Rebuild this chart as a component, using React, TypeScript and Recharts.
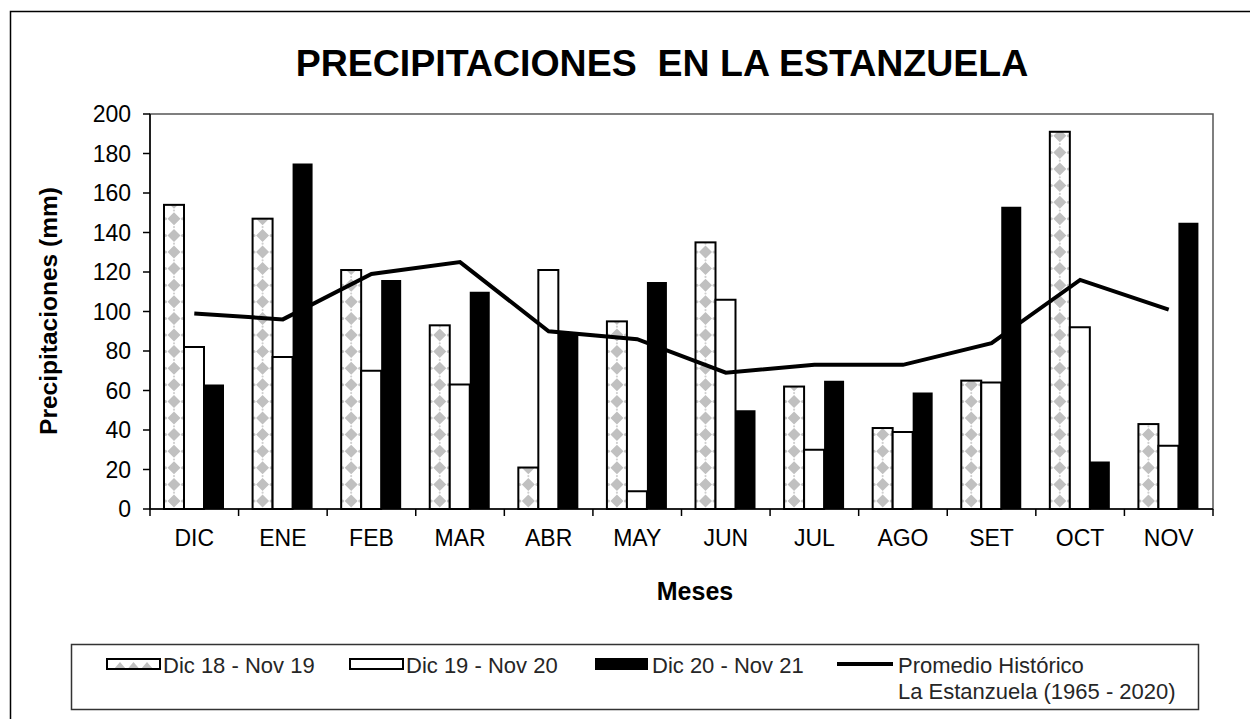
import { ComposedChart, Bar, Line, XAxis, YAxis, ReferenceArea } from 'recharts';

const months = ['DIC', 'ENE', 'FEB', 'MAR', 'ABR', 'MAY', 'JUN', 'JUL', 'AGO', 'SET', 'OCT', 'NOV'];
const season1819 = [154, 147, 121, 93, 21, 95, 135, 62, 41, 65, 191, 43];
const season1920 = [82, 77, 70, 63, 121, 9, 106, 30, 39, 64, 92, 32];
const season2021 = [63, 175, 116, 110, 89, 115, 50, 65, 59, 153, 24, 145];
const historical = [99, 96, 119, 125, 90, 86, 69, 73, 73, 84, 116, 101];
const yTicks = [0, 20, 40, 60, 80, 100, 120, 140, 160, 180, 200];

const data = months.map((month, i) => ({
  month,
  s1819: season1819[i],
  s1920: season1920[i],
  s2021: season2021[i],
  hist: historical[i],
}));

const W = 1250;
const H = 719;
const PLOT_LEFT = 150;
const PLOT_RIGHT = 1213;
const BAND = (PLOT_RIGHT - PLOT_LEFT) / months.length;
const FONT = '"Liberation Sans", Arial, sans-serif';

function diamonds(x: number, y: number, width: number, height: number) {
  const out = [];
  const cx = x + width / 2;
  const step = 16.6;
  let k = 0;
  for (let cy = y + height - 8; cy > y - 8; cy -= step) {
    out.push(
      <g key={k++}>
        <polygon points={`${cx},${cy - 6.5} ${cx + 6.5},${cy} ${cx},${cy + 6.5} ${cx - 6.5},${cy}`} fill="#c0c0c0" />
        <circle cx={x + 1.5} cy={cy} r={1.5} fill="#c8c8c8" />
        <circle cx={x + width - 1.5} cy={cy} r={1.5} fill="#c8c8c8" />
        <circle cx={cx} cy={cy - step / 2} r={1.1} fill="#d0d0d0" />
      </g>
    );
  }
  return out;
}

function DiamondBar(props: any) {
  const { x, y, width, height } = props;
  if (!height || height <= 0) return null;
  const id = `clip-d-${Math.round(x)}`;
  return (
    <g>
      <defs>
        <clipPath id={id}>
          <rect x={x} y={y} width={width} height={height} />
        </clipPath>
      </defs>
      <rect x={x} y={y} width={width} height={height} fill="#fff" />
      <g clipPath={`url(#${id})`}>{diamonds(x, y, width, height)}</g>
      <rect x={x} y={y} width={width} height={height} fill="none" stroke="#000" strokeWidth={2} />
    </g>
  );
}

function MonthTick(props: any) {
  const { x, y, payload, index } = props;
  const last = index === months.length - 1;
  return (
    <g>
      <line x1={x - BAND / 2} x2={x - BAND / 2} y1={y} y2={y + 7} stroke="#000" strokeWidth={1.5} />
      {last && <line x1={x + BAND / 2} x2={x + BAND / 2} y1={y} y2={y + 7} stroke="#000" strokeWidth={1.5} />}
      <text x={x} y={y + 37} textAnchor="middle" fontSize={23} fontFamily={FONT} fill="#000">
        {payload.value}
      </text>
    </g>
  );
}

export default function App() {
  return (
    <div style={{ position: 'absolute', left: 0, top: 0, width: W, height: H, overflow: 'hidden', background: '#fff' }}>
      <ComposedChart
        width={W}
        height={H}
        data={data}
        margin={{ top: 114, right: W - PLOT_RIGHT, bottom: 180, left: 0 }}
        barGap={0}
      >
        <ReferenceArea y1={0} y2={200} fill="none" stroke="#555" strokeWidth={1.5} ifOverflow="visible" />
        <XAxis
          dataKey="month"
          height={30}
          interval={0}
          tickLine={false}
          tickSize={0}
          tickMargin={0}
          axisLine={{ stroke: '#000', strokeWidth: 1.5 }}
          tick={<MonthTick />}
        />
        <YAxis
          width={PLOT_LEFT}
          domain={[0, 200]}
          ticks={yTicks}
          interval={0}
          tickSize={7}
          tickMargin={12}
          axisLine={{ stroke: '#000', strokeWidth: 1.5 }}
          tickLine={{ stroke: '#000', strokeWidth: 1.5 }}
          tick={{ fontSize: 23, fontFamily: FONT, fill: '#000' }}
        />
        <Bar dataKey="s1819" barSize={20} shape={<DiamondBar />} isAnimationActive={false} />
        <Bar dataKey="s1920" barSize={20} fill="#fff" stroke="#000" strokeWidth={2} isAnimationActive={false} />
        <Bar dataKey="s2021" barSize={20} fill="#000" isAnimationActive={false} />
        <Line dataKey="hist" type="linear" stroke="#000" strokeWidth={4} dot={false} activeDot={false} isAnimationActive={false} />
      </ComposedChart>

      <svg width={W} height={H} style={{ position: 'absolute', left: 0, top: 0, pointerEvents: 'none' }}>
        <rect x={10.5} y={11.5} width={1400} height={900} fill="none" stroke="#000" strokeWidth={1.5} />
        <text x={662} y={76} textAnchor="middle" fontSize={37.5} fontWeight="bold" fontFamily={FONT} fill="#000">
          {'PRECIPITACIONES\u00a0 EN LA ESTANZUELA'}
        </text>
        <text
          transform="translate(57, 311) rotate(-90)"
          textAnchor="middle"
          fontSize={24.5}
          fontWeight="bold"
          fontFamily={FONT}
          fill="#000"
        >
          Precipitaciones (mm)
        </text>
        <text x={695} y={600} textAnchor="middle" fontSize={25} fontWeight="bold" fontFamily={FONT} fill="#000">
          Meses
        </text>

        <rect x={71.5} y={644.5} width={1127} height={65} fill="#fff" stroke="#333" strokeWidth={1.5} />
        <defs>
          <clipPath id="leg-clip">
            <rect x={107} y={659} width={53} height={10} />
          </clipPath>
        </defs>
        <rect x={107} y={659} width={53} height={10} fill="#fff" />
        <g clipPath="url(#leg-clip)">
          {[120, 133.5, 147].map((cx) => (
            <polygon key={cx} points={`${cx},${662} ${cx + 6},${669} ${cx - 6},${669}`} fill="#c0c0c0" />
          ))}
        </g>
        <rect x={107} y={659} width={53} height={10} fill="none" stroke="#000" strokeWidth={2} />
        <rect x={350} y={659} width={53} height={10} fill="#fff" stroke="#000" strokeWidth={2} />
        <rect x={595} y={658} width={53} height={12} fill="#000" />
        <line x1={837} x2={893} y1={664} y2={664} stroke="#000" strokeWidth={4} />
        <g fontSize={22} fontFamily={FONT} fill="#262626">
          <text x={163} y={673}>Dic 18 - Nov 19</text>
          <text x={406} y={673}>Dic 19 - Nov 20</text>
          <text x={652} y={673}>Dic 20 - Nov 21</text>
          <text x={898} y={673}>Promedio Histórico</text>
          <text x={898} y={699}>La Estanzuela (1965 - 2020)</text>
        </g>
      </svg>
    </div>
  );
}
